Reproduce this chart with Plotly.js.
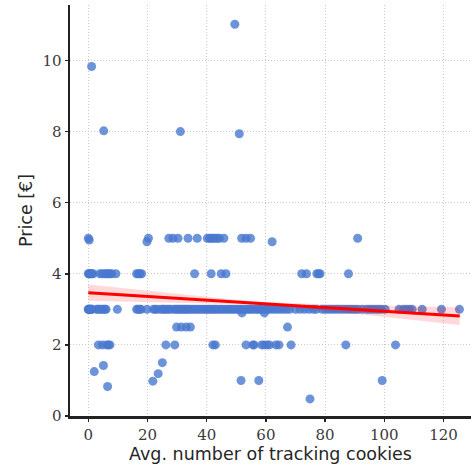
<!DOCTYPE html>
<html>
<head>
<meta charset="utf-8">
<script src="https://cdn.plot.ly/plotly-3.0.1.min.js"></script>
<style>html,body{margin:0;padding:0;background:#fff;}#chart{width:471px;height:467px;}</style>
</head>
<body>
<div id="chart"></div>
<script>
// Cookies (x) of shops at each common price level
const cookiesAtPrice5 = [0, 0.3, 19.8, 20.3, 27.2, 28.6, 30.3, 33.7, 36.8, 40.2, 41.0, 41.5, 42.2, 42.9, 43.6, 44.3, 45.8, 51.8, 53.3, 54.8, 62.1, 91.0];
const pricesRow5 = [5.0, 4.95, 4.9, 5.0, 5.0, 5.0, 5.0, 5.0, 5.0, 5.0, 5.0, 5.0, 5.0, 5.0, 5.0, 5.0, 5.0, 5.0, 5.0, 5.0, 4.9, 5.0];
const cookiesAtPrice4 = [0, 0.2, 0.5, 0.8, 1.2, 1.6, 3.9, 4.7, 5.6, 6.2, 6.7, 7.3, 7.9, 9.3, 16.3, 16.9, 17.4, 18.0, 35.9, 41.5, 44.9, 46.5, 72.1, 73.7, 77.2, 77.8, 78.3, 87.9];
const cookiesAtPrice3 = [0, 0, 0.2, 0.4, 0.6, 0.8, 1.0, 1.3, 2.8, 3.3, 3.9, 4.5, 5.1, 5.6, 6.0, 9.8,
  16.3, 16.8, 17.4, 17.8, 19.8, 22.0, 22.6, 23.4, 24.6, 25.2, 25.8, 26.5, 27.2, 27.9,
  29.0, 29.6, 30.2, 30.8, 31.4, 32.0, 32.6, 33.2, 33.8, 34.5, 35.3, 36.0, 36.8, 37.5, 38.3, 39.0, 39.7,
  40.4, 41.0, 41.7, 42.4, 43.0, 43.7, 44.5, 45.2, 46.0, 46.8, 47.5, 48.3, 49.0, 49.8, 50.5, 51.3,
  52.0, 52.8, 53.6, 54.3, 55.0, 55.8, 56.6, 57.3, 58.0, 58.8, 59.6, 60.3, 61.0, 62.0, 63.0, 64.0,
  65.0, 66.0, 67.0, 68.0, 70.0, 71.5, 73.0, 74.5, 76.0, 77.0, 79.0, 80.0, 81.0, 82.0, 83.0, 84.0,
  85.0, 86.0, 87.0, 88.0, 89.0, 90.0, 91.0, 92.5, 94.0, 95.0, 96.0, 97.0, 98.0, 99.0, 100.3,
  105.0, 106.5, 107.5, 108.5, 109.4, 112.8, 119.3, 125.4];
const cookiesAtPrice2 = [3.4, 4.8, 6.2, 6.8, 7.3, 26.2, 29.2, 42.1, 42.9, 53.3, 55.6, 56.0, 58.6, 59.4, 60.4, 61.2, 63.4, 64.4, 68.5, 87.0, 103.8];
const cookiesAtPrice25 = [29.8, 31.4, 33.1, 34.5, 67.3];
// Other individual shops
const otherCookies = [51.9, 59.5, 2.0, 5.1, 6.5, 21.8, 23.6, 25.0, 51.6, 57.6, 99.3, 74.9, 1.1, 5.2, 31.1, 49.5, 51.0];
const otherPrices = [2.9, 2.9, 1.25, 1.42, 0.83, 0.98, 1.19, 1.5, 1.0, 1.0, 1.0, 0.48, 9.83, 8.02, 8.0, 11.02, 7.94];

// Regression fit and its confidence band
const fitX = [0, 10, 20, 30, 40, 50, 60, 70, 80, 90, 100, 110, 120, 125.5];
const fitY = [3.47, 3.417, 3.365, 3.312, 3.26, 3.207, 3.154, 3.102, 3.049, 2.997, 2.944, 2.891, 2.839, 2.81];
const bandUpper = [3.70, 3.611, 3.523, 3.435, 3.351, 3.269, 3.204, 3.164, 3.139, 3.120, 3.102, 3.085, 3.069, 3.06];
const bandLower = [3.24, 3.223, 3.207, 3.189, 3.169, 3.145, 3.104, 3.040, 2.959, 2.874, 2.786, 2.697, 2.609, 2.56];

const xTicks = [0, 20, 40, 60, 80, 100, 120];
const yTicks = [0, 2, 4, 6, 8, 10];

const cookies = [].concat(cookiesAtPrice5, cookiesAtPrice4, cookiesAtPrice3, cookiesAtPrice2, cookiesAtPrice25, otherCookies);
const price = [].concat(pricesRow5,
  cookiesAtPrice4.map(() => 4), cookiesAtPrice3.map(() => 3), cookiesAtPrice2.map(() => 2),
  cookiesAtPrice25.map(() => 2.5), otherPrices);

const traces = [
  {x: cookies, y: price, type: 'scatter', mode: 'markers',
   marker: {size: 9, color: 'rgba(72,120,208,0.8)', line: {width: 0}}, hoverinfo: 'x+y'},
  {x: fitX, y: bandLower, type: 'scatter', mode: 'lines', line: {width: 0}, hoverinfo: 'skip'},
  {x: fitX, y: bandUpper, type: 'scatter', mode: 'lines', line: {width: 0}, fill: 'tonexty',
   fillcolor: 'rgba(255,0,0,0.15)', hoverinfo: 'skip'},
  {x: fitX, y: fitY, type: 'scatter', mode: 'lines', line: {color: '#ff0000', width: 3}}
];

const axisCommon = {
  showline: true, linecolor: '#222222', linewidth: 2.5,
  ticks: 'outside', ticklen: 3, tickwidth: 1.5, tickcolor: '#222222',
  showgrid: true, gridcolor: '#c8c8c8', gridwidth: 1, griddash: '1px,2px',
  zeroline: false, tickfont: {family: 'DejaVu Serif', size: 15, color: '#3a3a3a'}
};

const layout = {
  width: 471, height: 467,
  margin: {l: 70, r: 0, t: 5, b: 51},
  paper_bgcolor: '#ffffff', plot_bgcolor: '#ffffff',
  showlegend: false,
  xaxis: Object.assign({}, axisCommon, {
    range: [-6.2, 129.3], tickvals: xTicks, ticktext: xTicks.map(String),
    title: {text: 'Avg. number of tracking cookies', font: {family: 'DejaVu Sans', size: 17.5, color: '#262626'}, standoff: 5}
  }),
  yaxis: Object.assign({}, axisCommon, {
    range: [0, 11.56], tickvals: yTicks, ticktext: yTicks.map(String),
    title: {text: 'Price [€]', font: {family: 'DejaVu Sans', size: 17.5, color: '#262626'}, standoff: 6}
  })
};

Plotly.newPlot('chart', traces, layout, {displayModeBar: false, staticPlot: true});
</script>
</body>
</html>
